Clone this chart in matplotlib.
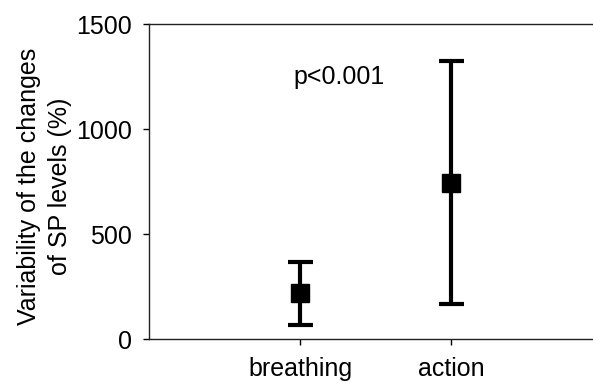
import numpy as np
import matplotlib
matplotlib.use("Agg")
import matplotlib.pyplot as plt

# values
conditions = ["breathing", "action"]
means = [220, 745]
upper = [368, 1325]
lower = [68, 168]
yticks = [0, 500, 1000, 1500]
p_label = "p<0.001"

plt.rcParams['font.family'] = ['Liberation Sans', 'DejaVu Sans']
plt.rcParams['font.size'] = 18

fig = plt.figure(figsize=(5.93, 3.83), dpi=100)
ax = fig.add_axes([0.2513, 0.1141, 0.764, 0.8232])

x = np.arange(1, len(conditions) + 1)
means_a = np.array(means)
yerr = np.vstack([means_a - np.array(lower), np.array(upper) - means_a])

ax.errorbar(x, means_a, yerr=yerr, fmt='s', color='black', ecolor='black',
            elinewidth=3, capsize=9, capthick=3, markersize=13)

ax.text(1.26, 1250, p_label, ha='center', va='center')

# axes cosmetics
ax.set_xlim(0, 3)
ax.set_ylim(0, 1500)
ax.set_xticks(x)
ax.set_xticklabels(conditions)
ax.set_yticks(yticks)
ax.tick_params(axis='y', direction='out', length=4.5, width=1, pad=8)
ax.tick_params(axis='x', direction='out', length=4, width=1, pad=9)
for side in ['left', 'top', 'bottom']:
    ax.spines[side].set_linewidth(1.0)
    ax.spines[side].set_color('#222222')
ax.spines['right'].set_visible(False)

ax.set_ylabel("Variability of the changes\nof SP levels (%)", linespacing=1.35)
ax.yaxis.set_label_coords(-0.23, 0.485)
ax.yaxis.label.set_verticalalignment('center')

fig.savefig("out.png", dpi=100)
